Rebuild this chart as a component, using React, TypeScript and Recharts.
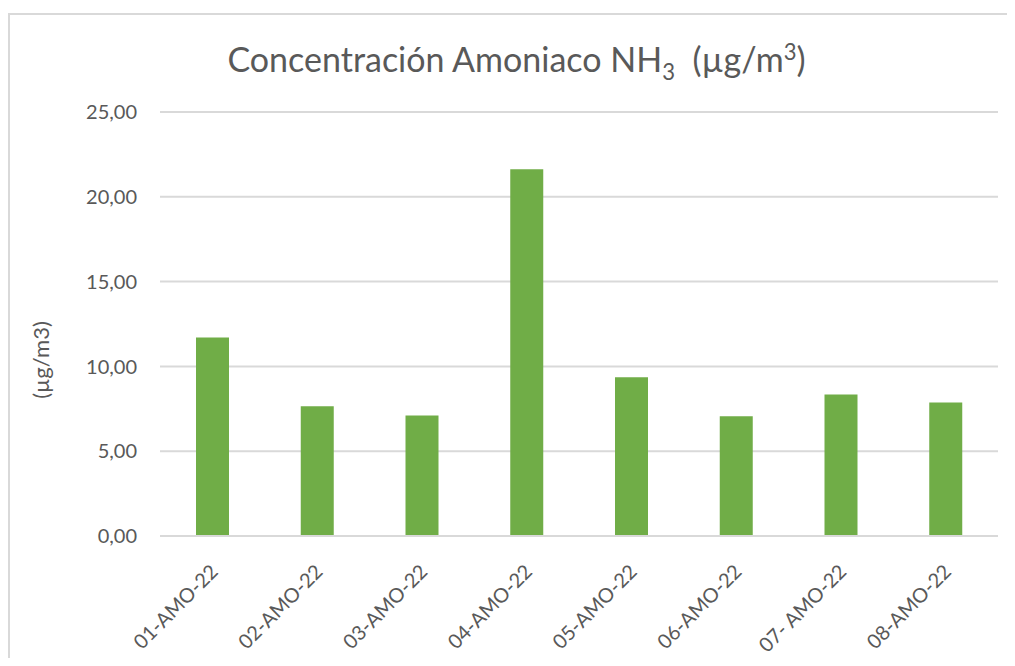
import React from 'react';
import { BarChart, Bar, XAxis, YAxis, CartesianGrid } from 'recharts';

const categories = ['01-AMO-22', '02-AMO-22', '03-AMO-22', '04-AMO-22', '05-AMO-22', '06-AMO-22', '07- AMO-22', '08-AMO-22'];
const values = [11.7, 7.65, 7.1, 21.62, 9.36, 7.06, 8.34, 7.87];
const yTicks = [0, 5, 10, 15, 20, 25];

const data = categories.map((c, i) => ({ name: c, value: values[i] }));

const FONT = 'Lato, "Open Sans", sans-serif';
const TXT = '#595959';
const GRID = '#d9d9d9';

const XTick = (props: any) => {
  const { x, y, payload } = props;
  return (
    <g transform={`translate(${x + 2},${y + 32})`}>
      <text transform="rotate(-45)" textAnchor="end" fill={TXT} fontSize={20} fontFamily={FONT} dy="0.35em">
        {payload.value}
      </text>
    </g>
  );
};

const fmt = (v: number) => v.toFixed(2).replace('.', ',');

export default function App() {
  return (
    <div style={{ position: 'relative', width: 1007, height: 650, fontFamily: FONT, background: '#fff' }}>
      <div
        style={{
          position: 'absolute',
          top: 5,
          left: 0,
          width: 1007,
          height: 645,
          borderTop: `2px solid ${GRID}`,
          borderLeft: `2px solid ${GRID}`,
          boxSizing: 'border-box',
        }}
      />
      <div
        style={{
          position: 'absolute',
          top: 22,
          left: 5,
          width: 1007,
          textAlign: 'center',
          fontSize: 34,
          color: TXT,
          lineHeight: '44px',
          whiteSpace: 'nowrap',
        }}
      >
        Concentración Amoniaco NH<sub style={{ fontSize: '0.65em' }}>3</sub>&nbsp; (µg/m<sup style={{ fontSize: '0.65em' }}>3</sup>)
      </div>
      <div
        style={{
          position: 'absolute',
          left: 32,
          top: 352,
          transform: 'translate(-50%, -50%) rotate(-90deg)',
          fontSize: 22,
          color: TXT,
          whiteSpace: 'nowrap',
        }}
      >
        (µg/m3)
      </div>
      <div style={{ position: 'absolute', left: 0, top: 0 }}>
        <BarChart width={1007} height={650} data={data} margin={{ top: 104, right: 17, bottom: 0, left: 0 }}>
          <CartesianGrid horizontal vertical={false} stroke={GRID} strokeWidth={2} />
          <XAxis
            dataKey="name"
            axisLine={{ stroke: GRID, strokeWidth: 2 }}
            tickLine={false}
            tickSize={0}
            tickMargin={0}
            interval={0}
            tick={<XTick />}
            height={122}
          />
          <YAxis
            domain={[0, 25]}
            ticks={yTicks}
            width={152}
            axisLine={false}
            tickLine={false}
            tickSize={6}
            tickMargin={17}
            tickFormatter={fmt}
            tick={{ fill: TXT, fontSize: 20, fontFamily: FONT }}
          />
          <Bar dataKey="value" fill="#70ad47" barSize={33} isAnimationActive={false} />
        </BarChart>
      </div>
    </div>
  );
}
